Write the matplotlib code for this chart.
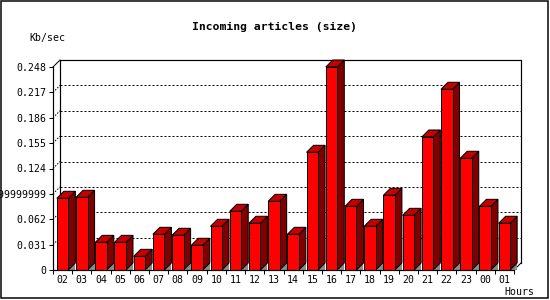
import matplotlib
matplotlib.use("Agg")
import matplotlib.pyplot as plt
from matplotlib.patches import Rectangle, Polygon

# ---- data ----
hours = ["02", "03", "04", "05", "06", "07", "08", "09", "10", "11", "12", "13",
         "14", "15", "16", "17", "18", "19", "20", "21", "22", "23", "00", "01"]
values = [0.0876, 0.0888, 0.0338, 0.0338, 0.0167, 0.0436, 0.0424, 0.0302,
          0.0534, 0.0717, 0.0571, 0.0839, 0.0436, 0.1438, 0.2480, 0.0778,
          0.0534, 0.0913, 0.0668, 0.1625, 0.2208, 0.1365, 0.0778, 0.0571]
ytick_values = [0, 0.031, 0.062, 0.093, 0.124, 0.155, 0.186, 0.217, 0.248]
ytick_labels = ["0", "0.031", "0.062", "0.09299999999999999", "0.124",
                "0.155", "0.186", "0.217", "0.248"]
title = "Incoming articles (size)"
ylabel = "Kb/sec"
xlabel = "Hours"

# ---- style ----
W, H = 550, 300
px = 0.72  # one pixel in points at dpi 100
FRONT = "#ff0000"
TOP = "#c40000"
SIDE = "#800000"
SHADOW = "#8c8c8c"
FONT = "DejaVu Sans Mono"

fig = plt.figure(figsize=(W / 100, H / 100), dpi=100)
fig.patch.set_facecolor("white")

ax_l, ax_b, ax_w, ax_h = 53, 30, 461, 203
ax = fig.add_axes([ax_l / W, ax_b / H, ax_w / W, ax_h / H])
n = len(hours)
ymax = ytick_values[-1]
ax.set_xlim(0, n)
ax.set_ylim(0, ymax)
ax.patch.set_visible(False)

depth = 7  # pixels
dx = depth / ax_w * n
dy = depth / ax_h * ymax

# back wall grid lines + left-wall diagonals
for t in ytick_values[1:-1]:
    ax.plot([dx, n + dx], [t + dy, t + dy], color="black", lw=px,
            linestyle=(0, (2, 2)), clip_on=False, zorder=1)
    ax.plot([0, dx], [t, t + dy], color="black", lw=px,
            linestyle=(0, (1.5, 1.5)), clip_on=False, zorder=1)

# back wall frame
ax.plot([dx, dx, n + dx, n + dx], [dy, ymax + dy, ymax + dy, dy],
        color="black", lw=px * 1.2, clip_on=False, zorder=1)
ax.plot([0, dx], [ymax, ymax + dy], color="black", lw=px, clip_on=False, zorder=1)
ax.plot([n, n + dx], [0, dy], color="black", lw=px, clip_on=False, zorder=1)

# bars
bw = 0.6
for i, v in enumerate(values):
    x0 = i + 0.5 - bw / 2
    x1 = x0 + bw
    z = 3 + i * 0.01
    ax.add_patch(Polygon([(x1, 0), (x1 + dx, 0), (x1 + dx, dy)], closed=True,
                         facecolor=SHADOW, edgecolor="none", clip_on=False, zorder=z))
    ax.add_patch(Polygon([(x1, 0), (x1, v), (x1 + dx, v + dy), (x1 + dx, dy)],
                         closed=True, facecolor=SIDE, edgecolor="black",
                         lw=px, clip_on=False, zorder=z))
    ax.add_patch(Polygon([(x0, v), (x0 + dx, v + dy), (x1 + dx, v + dy), (x1, v)],
                         closed=True, facecolor=TOP, edgecolor="black",
                         lw=px, clip_on=False, zorder=z))
    ax.add_patch(Rectangle((x0, 0), bw, v, facecolor=FRONT, edgecolor="black",
                           lw=px, clip_on=False, zorder=z + 0.005))

# axes / ticks
for s in ["top", "right"]:
    ax.spines[s].set_visible(False)
for s in ["left", "bottom"]:
    ax.spines[s].set_linewidth(px * 1.2)
    ax.spines[s].set_zorder(5)
ax.set_yticks(ytick_values)
ax.set_yticklabels(ytick_labels)
ax.set_xticks(range(n + 1))
ax.set_xticklabels([])
ax.set_xticks([i + 0.5 for i in range(n)], minor=True)
ax.set_xticklabels(hours, minor=True)
ax.tick_params(axis="y", direction="out", length=4 * px, width=px, pad=3 * px,
               labelsize=7.1, labelfontfamily=FONT)
ax.tick_params(axis="x", which="major", direction="out", length=4 * px, width=px)
ax.tick_params(axis="x", which="minor", length=0, pad=5 * px, labelsize=7.1,
               labelfontfamily=FONT)

# texts
fig.text(274 / W, 1 - 27 / H, title, ha="center", va="center",
         fontsize=8.2, fontweight="bold", family=FONT)
fig.text(47.5 / W, 1 - 37.5 / H, ylabel, ha="center", va="center",
         fontsize=7.1, family=FONT)
fig.text(519 / W, 1 - 292 / H, xlabel, ha="center", va="center",
         fontsize=7.1, family=FONT)

# figure border
fig.add_artist(Rectangle((1 / W, 2 / H), 547 / W, 297.5 / H, transform=fig.transFigure,
                         fill=False, edgecolor="black", lw=px * 1.5))

fig.savefig("out.png", dpi=100)
